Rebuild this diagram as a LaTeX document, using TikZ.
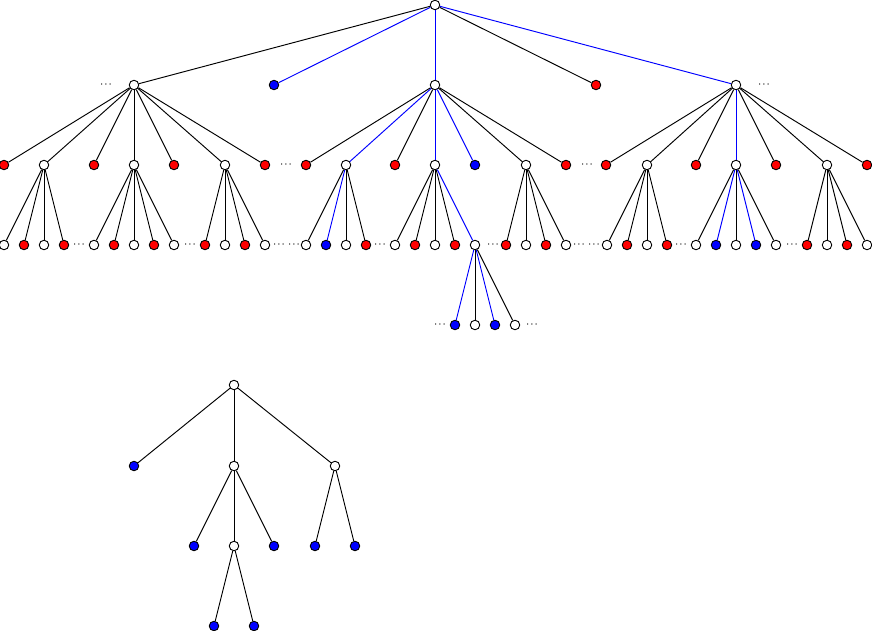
\documentclass[tikz,border=0pt]{standalone}
\usepackage{tikz}
\begin{document}
\begin{tikzpicture}[x=1pt,y=-1pt,
  base/.style={circle,draw=black,line width=0.9pt,inner sep=0pt,minimum size=9.5pt},
  wnode/.style={base,fill=white},
  rnode/.style={base,fill=red},
  bnode/.style={base,fill=blue},
  ek/.style={draw=black,line width=0.95pt},
  eb/.style={draw=blue,line width=0.95pt},
  elli/.style={inner sep=0pt,font=\footnotesize\boldmath}]
\useasboundingbox (0,0) rectangle (872,631);
% root
\node[wnode] (R) at (435,5) {};
\foreach \x/\s/\e/\n in {134/wnode/ek/A,274/bnode/eb/B,435/wnode/eb/C,596/rnode/ek/D,736/wnode/eb/E}{
  \node[\s] (\n) at (\x,85) {};
  \draw[\e] (R) -- (\n);
}
\node[elli] (d1) at (106,85) {$\cdots$};
\node[elli] (d2) at (764,85) {$\cdots$};
% subtree A
\foreach \x/\s/\e [count=\i] in {4/rnode/ek,44/wnode/ek,94/rnode/ek,134/wnode/ek,174/rnode/ek,225/wnode/ek,265/rnode/ek}{
  \node[\s] (a\i) at (\x,165) {};
  \draw[\e] (A) -- (a\i);
}
\node[elli] (d3) at (286,165) {$\cdots$};
\foreach \x/\s/\e [count=\i] in {4/wnode/ek,24/rnode/ek,44/wnode/ek,64/rnode/ek}{
  \node[\s] (aa\i) at (\x,245) {};
  \draw[\e] (a2) -- (aa\i);
}
\node[elli] (d4) at (79,245) {$\cdots$};
\foreach \x/\s/\e [count=\i] in {94/wnode/ek,114/rnode/ek,134/wnode/ek,154/rnode/ek,174/wnode/ek}{
  \node[\s] (ab\i) at (\x,245) {};
  \draw[\e] (a4) -- (ab\i);
}
\node[elli] (d5) at (190,245) {$\cdots$};
\foreach \x/\s/\e [count=\i] in {205/rnode/ek,225/wnode/ek,245/rnode/ek,265/wnode/ek}{
  \node[\s] (ac\i) at (\x,245) {};
  \draw[\e] (a6) -- (ac\i);
}
\node[elli] (d6) at (279,245) {$\cdots$};
\node[elli] (d7) at (294,245) {$\cdots$};
% subtree C
\foreach \x/\s/\e [count=\i] in {306/rnode/ek,346/wnode/eb,395/rnode/ek,435/wnode/eb,475/bnode/eb,526/wnode/ek,566/rnode/ek}{
  \node[\s] (c\i) at (\x,165) {};
  \draw[\e] (C) -- (c\i);
}
\node[elli] (d8) at (587,165) {$\cdots$};
\foreach \x/\s/\e [count=\i] in {306/wnode/ek,326/bnode/eb,346/wnode/ek,366/rnode/ek}{
  \node[\s] (ca\i) at (\x,245) {};
  \draw[\e] (c2) -- (ca\i);
}
\node[elli] (d9) at (380,245) {$\cdots$};
\foreach \x/\s/\e [count=\i] in {395/wnode/ek,415/rnode/ek,435/wnode/ek,455/rnode/ek,475/wnode/eb}{
  \node[\s] (cb\i) at (\x,245) {};
  \draw[\e] (c4) -- (cb\i);
}
\node[elli] (d10) at (493,245) {$\cdots$};
\foreach \x/\s/\e [count=\i] in {506/rnode/ek,526/wnode/ek,546/rnode/ek,566/wnode/ek}{
  \node[\s] (cc\i) at (\x,245) {};
  \draw[\e] (c6) -- (cc\i);
}
\node[elli] (d11) at (579,245) {$\cdots$};
\node[elli] (d12) at (594,245) {$\cdots$};
\foreach \x/\s/\e [count=\i] in {455/bnode/eb,475/wnode/ek,495/bnode/eb,515/wnode/ek}{
  \node[\s] (cd\i) at (\x,325) {};
  \draw[\e] (cb5) -- (cd\i);
}
\node[elli] (d13) at (440,325) {$\cdots$};
\node[elli] (d14) at (532,325) {$\cdots$};
% subtree E
\foreach \x/\s/\e [count=\i] in {606/rnode/ek,647/wnode/ek,696/rnode/ek,736/wnode/eb,776/rnode/ek,827/wnode/ek,867/rnode/ek}{
  \node[\s] (e\i) at (\x,165) {};
  \draw[\e] (E) -- (e\i);
}
\foreach \x/\s/\e [count=\i] in {607/wnode/ek,627/rnode/ek,647/wnode/ek,667/rnode/ek}{
  \node[\s] (ea\i) at (\x,245) {};
  \draw[\e] (e2) -- (ea\i);
}
\node[elli] (d15) at (681,245) {$\cdots$};
\foreach \x/\s/\e [count=\i] in {696/wnode/ek,716/bnode/eb,736/wnode/ek,756/bnode/eb,776/wnode/ek}{
  \node[\s] (eb\i) at (\x,245) {};
  \draw[\e] (e4) -- (eb\i);
}
\node[elli] (d16) at (792,245) {$\cdots$};
\foreach \x/\s/\e [count=\i] in {807/rnode/ek,827/wnode/ek,847/rnode/ek,867/wnode/ek}{
  \node[\s] (ec\i) at (\x,245) {};
  \draw[\e] (e6) -- (ec\i);
}
% bottom tree
\node[wnode] (T) at (234,385) {};
\node[bnode] (t1) at (134,466) {};
\node[wnode] (t2) at (234,466) {};
\node[wnode] (t3) at (335,466) {};
\node[bnode] (t21) at (194,546) {};
\node[wnode] (t22) at (234,546) {};
\node[bnode] (t23) at (274,546) {};
\node[bnode] (t31) at (315,546) {};
\node[bnode] (t32) at (355,546) {};
\node[bnode] (t221) at (214,626) {};
\node[bnode] (t222) at (254,626) {};
\foreach \p/\c in {T/t1,T/t2,T/t3,t2/t21,t2/t22,t2/t23,t3/t31,t3/t32,t22/t221,t22/t222}
  \draw[ek] (\p) -- (\c);
\end{tikzpicture}
\end{document}
